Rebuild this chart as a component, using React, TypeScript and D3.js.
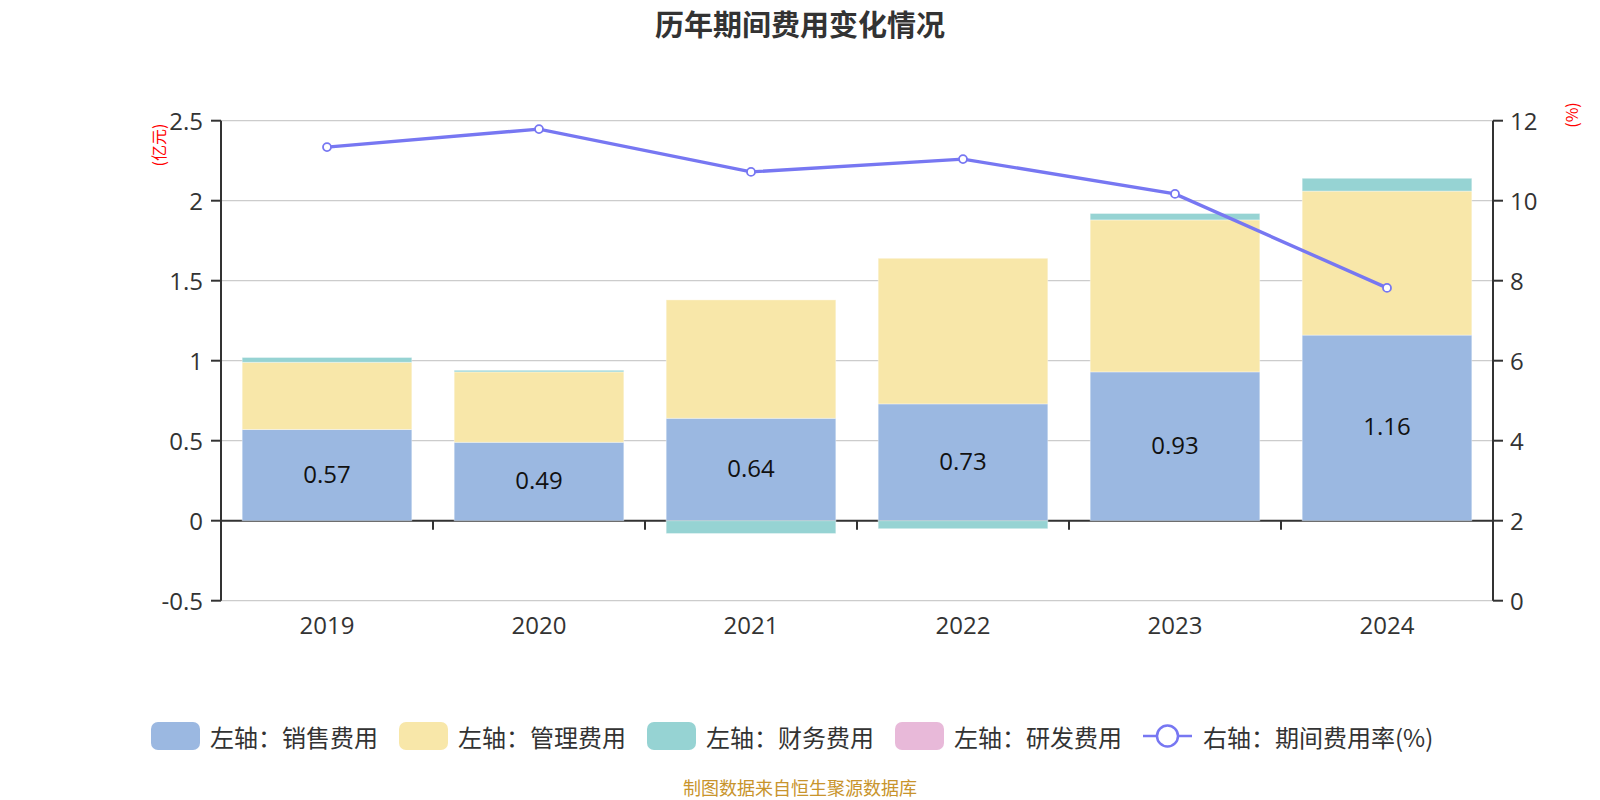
import React, { useEffect, useRef } from 'react';
import * as d3 from 'd3';

const years = ['2019', '2020', '2021', '2022', '2023', '2024'];
const salesExp = [0.57, 0.49, 0.64, 0.73, 0.93, 1.16];
const adminExp = [0.42, 0.44, 0.74, 0.91, 0.95, 0.9];
const finExp = [0.03, 0.01, -0.08, -0.05, 0.04, 0.08];
const rdExp = [0, 0, 0, 0, 0, 0];
const expenseRate = [11.34, 11.79, 10.72, 11.04, 10.17, 7.82];
const leftTicks = [-0.5, 0, 0.5, 1, 1.5, 2, 2.5];
const rightTicks = [0, 2, 4, 6, 8, 10, 12];
const seriesNames = ['左轴：销售费用', '左轴：管理费用', '左轴：财务费用', '左轴：研发费用'];
const lineName = '右轴：期间费用率(%)';
const colors = ['#9bb8e1', '#f8e7a9', '#96d3d3', '#e8b9d9'];
const lineColor = '#7777f2';

const W = 1600;
const H = 800;
const FONT = '"Open Sans", "Noto Sans CJK SC", sans-serif';
const CJK = '"Noto Sans CJK SC", sans-serif';

export default function App() {
  const ref = useRef<SVGSVGElement>(null);

  useEffect(() => {
    const svg = d3.select(ref.current);
    svg.selectAll('*').remove();

    const left = 221, right = 1493, top = 120.7, bottom = 600.7;
    const x = d3.scaleBand<string>().domain(years).range([left, right]).paddingInner(0).paddingOuter(0);
    const yL = d3.scaleLinear().domain([-0.5, 2.5]).range([bottom, top]);
    const yR = d3.scaleLinear().domain([0, 12]).range([bottom, top]);
    const bw = x.bandwidth() * 0.8;

    // title
    svg.append('text').attr('x', 800).attr('y', 23).attr('text-anchor', 'middle')
      .attr('dominant-baseline', 'central').attr('font-size', 29).attr('font-weight', 'bold')
      .attr('fill', '#333').attr('font-family', CJK).text('历年期间费用变化情况');

    // gridlines
    svg.append('g').selectAll('line').data(leftTicks).join('line')
      .attr('x1', left).attr('x2', right).attr('y1', d => yL(d)).attr('y2', d => yL(d))
      .attr('stroke', '#cccccc').attr('stroke-width', 1.3);

    // zero axis line
    svg.append('line').attr('x1', left).attr('x2', right).attr('y1', yL(0)).attr('y2', yL(0))
      .attr('stroke', '#333').attr('stroke-width', 2);
    // x ticks at category boundaries
    const bounds = years.map(y => x(y)!).concat([right]);
    svg.append('g').selectAll('line').data(bounds).join('line')
      .attr('x1', d => d).attr('x2', d => d).attr('y1', yL(0)).attr('y2', yL(0) + 9)
      .attr('stroke', '#333').attr('stroke-width', 2);

    // stacked bars
    const all = [salesExp, adminExp, finExp, rdExp];
    const pos = years.map(() => 0);
    const neg = years.map(() => 0);
    all.forEach((vals, si) => {
      const g = svg.append('g');
      vals.forEach((v, i) => {
        if (v === 0) return;
        let y0: number, y1: number;
        if (v > 0) { y0 = pos[i]; y1 = pos[i] + v; pos[i] = y1; }
        else { y0 = neg[i]; y1 = neg[i] + v; neg[i] = y1; }
        const cx = x(years[i])! + x.bandwidth() / 2;
        g.append('rect').attr('x', cx - bw / 2).attr('width', bw)
          .attr('y', Math.min(yL(y0), yL(y1))).attr('height', Math.abs(yL(y0) - yL(y1)))
          .attr('fill', colors[si]).attr('stroke', '#ffffff').attr('stroke-opacity', 0.35).attr('stroke-width', 1);
      });
    });

    // bar labels (sales)
    svg.append('g').selectAll('text').data(salesExp).join('text')
      .attr('x', (d, i) => x(years[i])! + x.bandwidth() / 2)
      .attr('y', d => (yL(0) + yL(d)) / 2 - 2)
      .attr('text-anchor', 'middle').attr('dominant-baseline', 'central')
      .attr('font-size', 24).attr('font-family', FONT).attr('fill', '#111')
      .text(d => d.toFixed(2));

    // left axis
    svg.append('line').attr('x1', left).attr('x2', left).attr('y1', top).attr('y2', bottom)
      .attr('stroke', '#333').attr('stroke-width', 2);
    const lt = svg.append('g').selectAll('g').data(leftTicks).join('g');
    lt.append('line').attr('x1', left - 10).attr('x2', left).attr('y1', d => yL(d)).attr('y2', d => yL(d))
      .attr('stroke', '#333').attr('stroke-width', 2);
    lt.append('text').attr('x', left - 18).attr('y', d => yL(d)).attr('text-anchor', 'end')
      .attr('dominant-baseline', 'central').attr('font-size', 24).attr('font-family', FONT)
      .attr('fill', '#333').text(d => String(d));

    // right axis
    svg.append('line').attr('x1', right).attr('x2', right).attr('y1', top).attr('y2', bottom)
      .attr('stroke', '#333').attr('stroke-width', 2);
    const rt = svg.append('g').selectAll('g').data(rightTicks).join('g');
    rt.append('line').attr('x1', right).attr('x2', right + 10).attr('y1', d => yR(d)).attr('y2', d => yR(d))
      .attr('stroke', '#333').attr('stroke-width', 2);
    rt.append('text').attr('x', right + 17).attr('y', d => yR(d)).attr('text-anchor', 'start')
      .attr('dominant-baseline', 'central').attr('font-size', 24).attr('font-family', FONT)
      .attr('fill', '#333').text(d => String(d));

    // x labels
    svg.append('g').selectAll('text').data(years).join('text')
      .attr('x', d => x(d)! + x.bandwidth() / 2).attr('y', bottom + 24)
      .attr('text-anchor', 'middle').attr('dominant-baseline', 'central')
      .attr('font-size', 24).attr('font-family', FONT).attr('fill', '#333').text(d => d);

    // axis units
    svg.append('text').attr('transform', `translate(158,145) rotate(-90)`)
      .attr('text-anchor', 'middle').attr('dominant-baseline', 'central')
      .attr('font-size', 16).attr('font-family', CJK).attr('fill', '#ff0000').text('(亿元)');
    svg.append('text').attr('transform', `translate(1571,115) rotate(-90)`)
      .attr('text-anchor', 'middle').attr('dominant-baseline', 'central')
      .attr('font-size', 16).attr('font-family', CJK).attr('fill', '#ff0000').text('(%)');

    // line
    const line = d3.line<number>().x((d, i) => x(years[i])! + x.bandwidth() / 2).y(d => yR(d));
    svg.append('path').datum(expenseRate).attr('d', line).attr('fill', 'none')
      .attr('stroke', lineColor).attr('stroke-width', 3.4);
    svg.append('g').selectAll('circle').data(expenseRate).join('circle')
      .attr('cx', (d, i) => x(years[i])! + x.bandwidth() / 2).attr('cy', d => yR(d)).attr('r', 4)
      .attr('fill', '#fff').attr('stroke', lineColor).attr('stroke-width', 1.8);

    // legend
    const legY = 736;
    let lx = 151;
    const lg = svg.append('g');
    seriesNames.forEach((name, i) => {
      lg.append('rect').attr('x', lx).attr('y', legY - 14).attr('width', 49).attr('height', 28)
        .attr('rx', 7).attr('fill', colors[i]);
      const t = lg.append('text').attr('x', lx + 59).attr('y', legY).attr('dominant-baseline', 'central')
        .attr('font-size', 24).attr('font-family', CJK).attr('fill', '#333').text(name);
      const tw = (t.node() as SVGTextElement).getComputedTextLength();
      lx = lx + 59 + tw + 21;
    });
    lg.append('line').attr('x1', lx).attr('x2', lx + 49).attr('y1', legY).attr('y2', legY)
      .attr('stroke', lineColor).attr('stroke-width', 2.5);
    lg.append('circle').attr('cx', lx + 24.5).attr('cy', legY).attr('r', 10.5)
      .attr('fill', '#fff').attr('stroke', lineColor).attr('stroke-width', 2.5);
    lg.append('text').attr('x', lx + 60).attr('y', legY).attr('dominant-baseline', 'central')
      .attr('font-size', 24).attr('font-family', CJK).attr('fill', '#333').text(lineName);

    // footer
    svg.append('text').attr('x', 800).attr('y', 787).attr('text-anchor', 'middle')
      .attr('dominant-baseline', 'central').attr('font-size', 18).attr('font-family', CJK)
      .attr('fill', '#c8942c').text('制图数据来自恒生聚源数据库');
  }, []);

  return (
    <svg ref={ref} width={W} height={H} viewBox={`0 0 ${W} ${H}`}
      style={{ position: 'absolute', left: 0, top: 0, background: '#fff' }} />
  );
}
